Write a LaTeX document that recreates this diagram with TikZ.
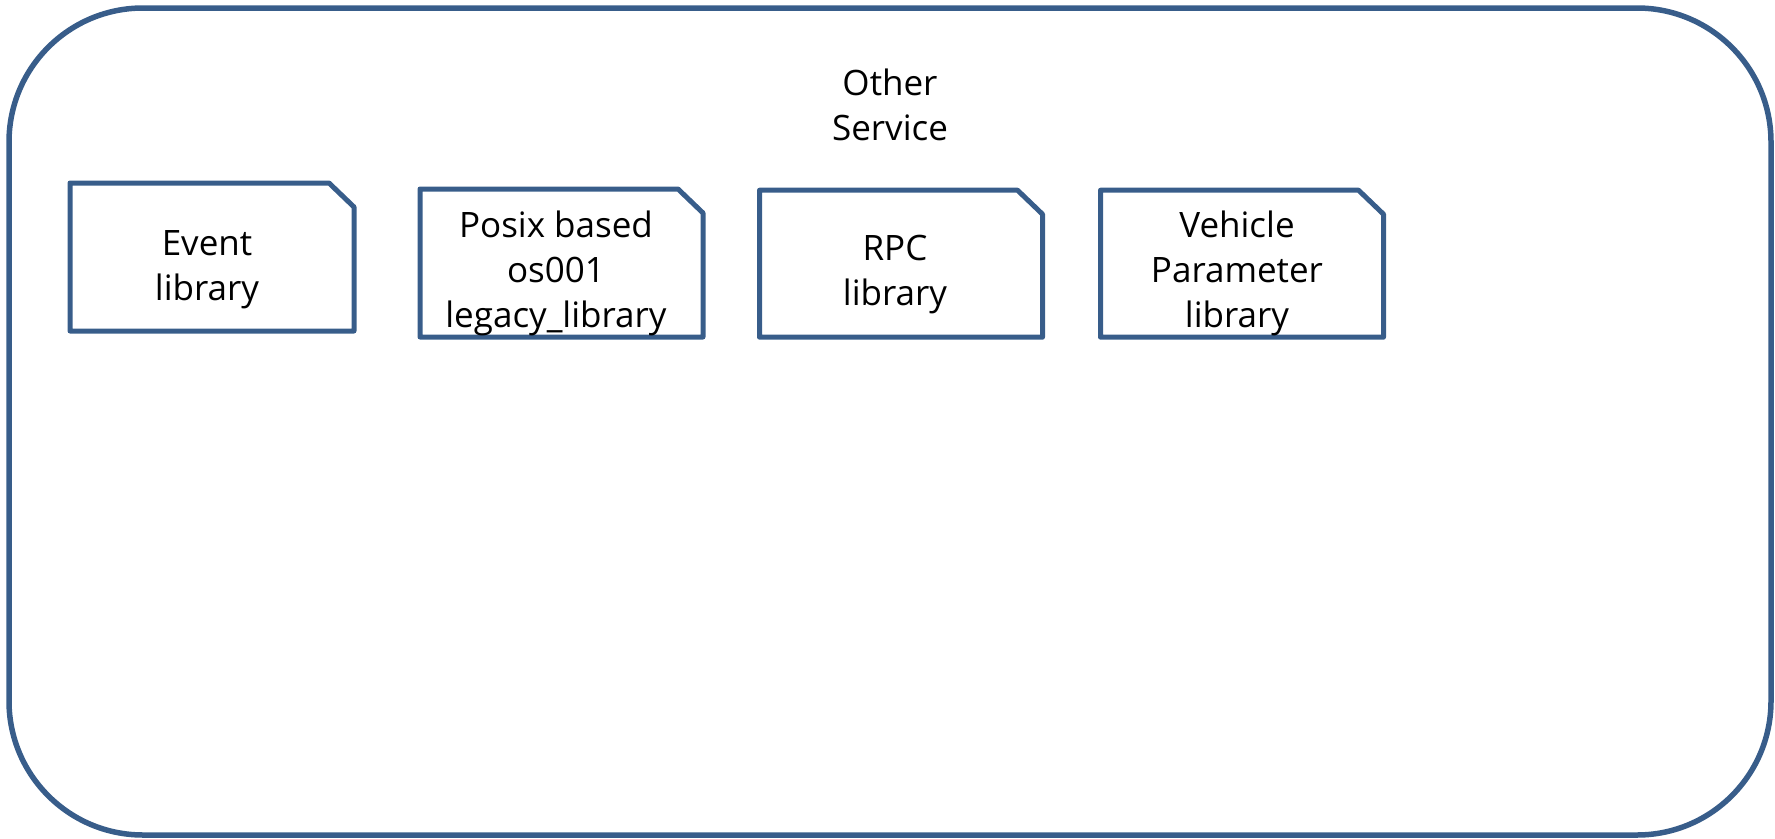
\documentclass[tikz,border=0pt]{standalone}
\usepackage{fontspec}
\setmainfont{Open Sans}
\definecolor{edgeblue}{RGB}{56,93,138}
\tikzset{
  libbox/.style={rectangle, inner sep=0pt, outer sep=0pt},
  boxline/.style={draw=edgeblue, line width=5pt, line join=round},
  libtext/.style={align=center, anchor=base, inner sep=0pt,
    font=\fontsize{35}{45}\selectfont, text=black},
}
\newcommand{\chambox}[1]{%
  \draw[boxline] (#1.north west) -- ([xshift=-25pt]#1.north east)
    -- ([yshift=-24pt]#1.north east) -- (#1.south east)
    -- (#1.south west) -- cycle;}
\begin{document}
\begin{tikzpicture}[x=1pt,y=-1pt]
\useasboundingbox (0,0) rectangle (1775,838);
\draw[edgeblue, line width=5.5pt, rounded corners=134pt] (9,8) rectangle (1771,835);
\node[libtext] (title) at (890,140) {Other\\Service};
% boxes
\node[libbox, minimum width=284pt, minimum height=148pt] (event) at (212,257) {};
\node[libbox, minimum width=283pt, minimum height=148pt] (posix) at (561.5,263) {};
\node[libbox, minimum width=283pt, minimum height=147pt] (rpc) at (901,263.7) {};
\node[libbox, minimum width=283pt, minimum height=147pt] (vehicle) at (1242,263.7) {};
\chambox{event}
\chambox{posix}
\chambox{rpc}
\chambox{vehicle}
% texts
\node[libtext] (eventtxt) at (207,300) {Event\\library};
\node[libtext] (posixtxt) at (556,327) {Posix based\\os001\\legacy\_library};
\node[libtext] (rpctxt) at (895,305) {RPC\\library};
\node[libtext] (vehicletxt) at (1237,327) {Vehicle\\Parameter\\library};
\end{tikzpicture}
\end{document}
